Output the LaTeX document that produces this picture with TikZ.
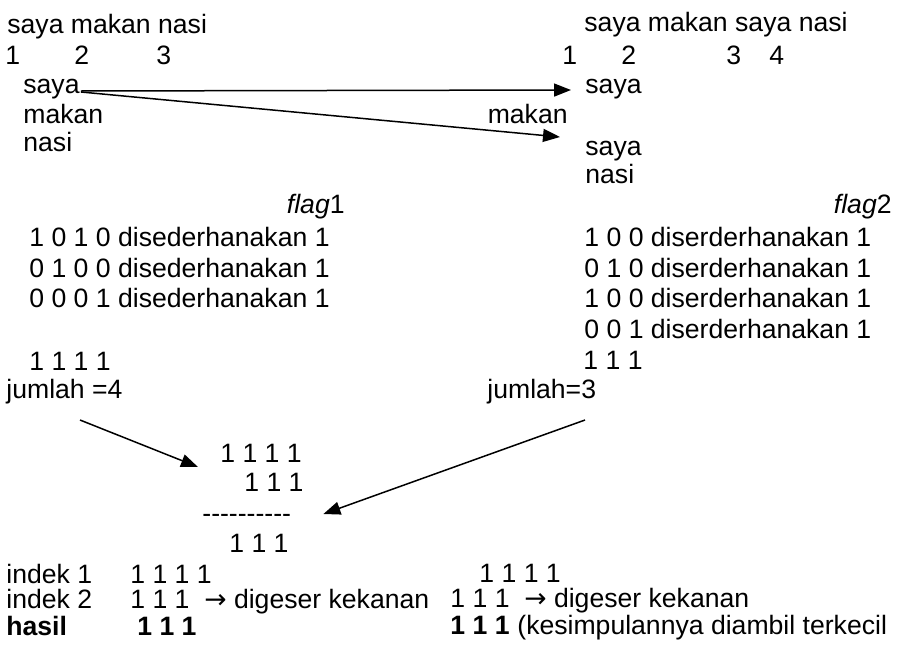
\documentclass[tikz,border=0pt]{standalone}
\usepackage{fontspec}
\setmainfont{Liberation Sans}
\newfontfamily\symfont{DejaVu Sans}
\usepackage{tikz}
\usetikzlibrary{arrows.meta}

\newcommand{\geser}{{\symfont →}}

\begin{document}
\begin{tikzpicture}[
    x=0.5pt, y=-0.5pt,
    every node/.style={anchor=base west, inner sep=0pt,
                       font=\fontsize{13.3pt}{15pt}\selectfont},
    rt/.style={anchor=base east},
    bold/.style={font=\fontsize{13.3pt}{15pt}\selectfont\bfseries},
    arr/.style={-{Triangle[length=8.5pt, width=6.5pt]}, line width=0.75pt},
]
    \useasboundingbox (0,0) rectangle (897,648);

    % first sentence and its word positions
    \node (kal1) at (7,33) {saya makan nasi};
    \node (p1) at (5,64) {1};
    \node (p2) at (74,64) {2};
    \node (p3) at (156,64) {3};
    \node (lsaya) at (23,93) {saya};
    \node (lmakan) at (23,123) {makan};
    \node (lnasi) at (23,151) {nasi};

    % second sentence and its word positions
    \node (kal2) at (584,32) {saya makan saya nasi};
    \node (q1) at (562,64) {1};
    \node (q2) at (621,64) {2};
    \node (q3) at (726,64) {3};
    \node (q4) at (769,64) {4};
    \node (rsaya) at (585,93) {saya};
    \node[rt] (rmakan) at (568,123) {makan};
    \node (rsaya2) at (585,155) {saya};
    \node (rnasi) at (585,183) {nasi};

    % matching words
    \draw[arr] ([shift={(1,-2)}]lsaya.base east) -- ([shift={(-14,-3)}]rsaya.base west);
    \draw[arr] ([shift={(1,-1)}]lsaya.base east) -- ([shift={(-25,-18)}]rsaya2.base west);

    % flag 1
    \node[rt] (flag1) at (345,213) {\textit{flag}1};
    \node (f1r1) at (29,246) {1 0 1 0 disederhanakan 1};
    \node (f1r2) at (29,277) {0 1 0 0 disederhanakan 1};
    \node (f1r3) at (29,307) {0 0 0 1 disederhanakan 1};
    \node (f1sum) at (29,370) {1 1 1 1};
    \node (jml1) at (6,398) {jumlah =4};

    % flag 2
    \node[rt] (flag2) at (892,213) {\textit{flag}2};
    \node (f2r1) at (584,246) {1 0 0 diserderhanakan 1};
    \node (f2r2) at (584,277) {0 1 0 diserderhanakan 1};
    \node (f2r3) at (584,307) {1 0 0 diserderhanakan 1};
    \node (f2r4) at (584,338) {0 0 1 diserderhanakan 1};
    \node (f2sum) at (583,369) {1 1 1};
    \node (jml2) at (487,398) {jumlah=3};

    % both sums compared
    \node (m1) at (220,462) {1 1 1 1};
    \node (m2) at (244,491) {1 1 1};
    \node (mdash) at (202,522) {-{}-{}-{}-{}-{}-{}-{}-{}-{}-};
    \node (m3) at (229,552) {1 1 1};
    \draw[arr] ([shift={(74,22)}]jml1.base west) -- ([shift={(-22,5)}]m1.base west);
    \draw[arr] ([shift={(98,22)}]jml2.base west) -- ([shift={(32,-8)}]mdash.base east);

    % shifted indexes
    \node (ind1) at (6,583) {indek 1};
    \node (ind1v) at (130,583) {1 1 1 1};
    \node (ind1w) at (479,582) {1 1 1 1};
    \node (ind2) at (6,608) {indek 2};
    \node (ind2v) at (130,608) {1 1 1~~\geser{} digeser kekanan};
    \node (ind2w) at (450,607) {1 1 1~~\geser{} digeser kekanan};
    \node[bold] (hasil) at (6,635) {hasil};
    \node[bold] (hasilv) at (137,635) {1 1 1};
    \node[bold] (hasilw) at (450,634) {1 1 1};
    \node (kesimp) at (517,634) {(kesimpulannya diambil terkecil};
\end{tikzpicture}
\end{document}
